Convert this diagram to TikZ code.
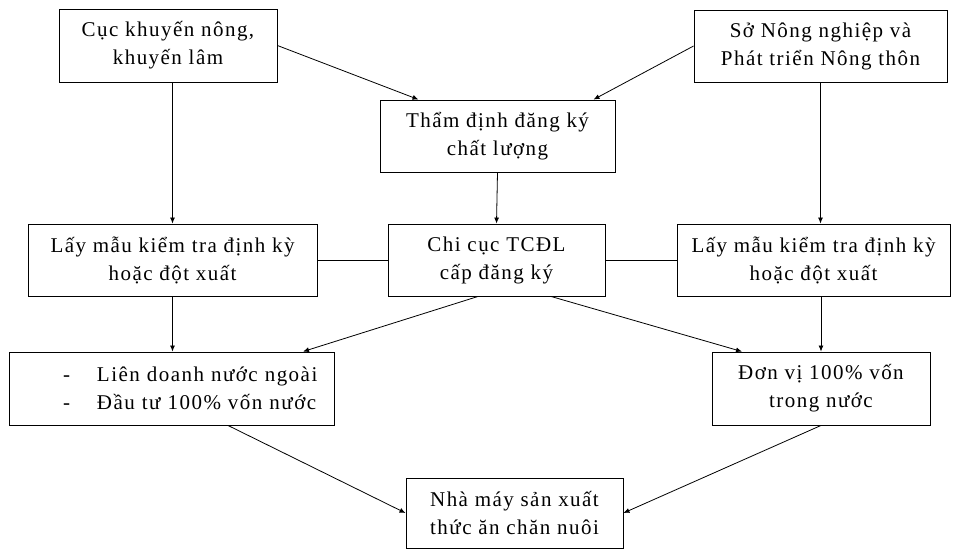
\documentclass[tikz,border=0pt]{standalone}
\usepackage{fontspec}
\setmainfont{Liberation Serif}[LetterSpace=7]
\usetikzlibrary{arrows.meta}
\tikzset{
  box/.style={
    draw,
    line width=0.9pt,
    align=center,
    inner sep=0pt,
    font=\fontsize{21}{28}\selectfont
  },
  link/.style={line width=0.8pt},
  flow/.style={link,-{Latex[length=6pt,width=5pt]}},
}

\begin{document}
\begin{tikzpicture}[x=1pt,y=-1pt]
  \useasboundingbox (0,0) rectangle (954,550);
  \node[box,minimum width=218pt,minimum height=73pt] (khuyennong) at (168,45.5) {Cục khuyến nông,\\khuyến lâm};
  \node[box,minimum width=253pt,minimum height=72pt] (sonn) at (820.5,46) {Sở Nông nghiệp và\\Phát triển Nông thôn};
  \node[box,minimum width=235pt,minimum height=72pt] (thamdinh) at (497.5,136) {Thẩm định đăng ký\\chất lượng};
  \node[box,minimum width=289pt,minimum height=72pt] (laymauL) at (172.5,260) {Lấy mẫu kiểm tra định kỳ\\hoặc đột xuất};
  \node[box,minimum width=217pt,minimum height=72pt] (chicuc) at (496.5,260) {Chi cục TCĐL\\cấp đăng ký};
  \node[box,minimum width=273pt,minimum height=72pt] (laymauR) at (813.5,260) {Lấy mẫu kiểm tra định kỳ\\hoặc đột xuất};
  \node[box,minimum width=325pt,minimum height=73pt,text width=307pt,align=left] (liendoanh) at (171.5,388.5)
    {\hspace*{45pt}\makebox[34pt][l]{-}Liên doanh nước ngoài\\\hspace*{45pt}\makebox[34pt][l]{-}Đầu tư 100\% vốn nước};
  \node[box,minimum width=218pt,minimum height=73pt] (donvi) at (821,388.5) {Đơn vị 100\% vốn\\trong nước};
  \node[box,minimum width=217pt,minimum height=70pt] (nhamay) at (514.5,513) {Nhà máy sản xuất\\thức ăn chăn nuôi};

  \draw[flow] (khuyennong.east) -- ([xshift=-79pt]thamdinh.north);
  \draw[flow] (sonn.west) -- ([xshift=96pt]thamdinh.north);
  \draw[flow] (thamdinh.south) -- (chicuc.north);
  \draw[flow] (laymauL.north |- khuyennong.south) -- (laymauL.north);
  \draw[flow] (sonn.south) -- (sonn.south |- laymauR.north);
  \draw[link] (laymauL.east) -- (chicuc.west);
  \draw[link] (chicuc.east) -- (laymauR.west);
  \draw[flow] (laymauL.south) -- (laymauL.south |- liendoanh.north);
  \draw[flow] (donvi.north |- laymauR.south) -- (donvi.north);
  \draw[flow] ([xshift=-18.5pt]chicuc.south) -- ([xshift=131.5pt]liendoanh.north);
  \draw[flow] ([xshift=54.5pt]chicuc.south) -- ([xshift=-79pt]donvi.north);
  \draw[flow] ([xshift=56.5pt]liendoanh.south) -- (nhamay.west);
  \draw[flow] (donvi.south) -- (nhamay.east);
\end{tikzpicture}
\end{document}
